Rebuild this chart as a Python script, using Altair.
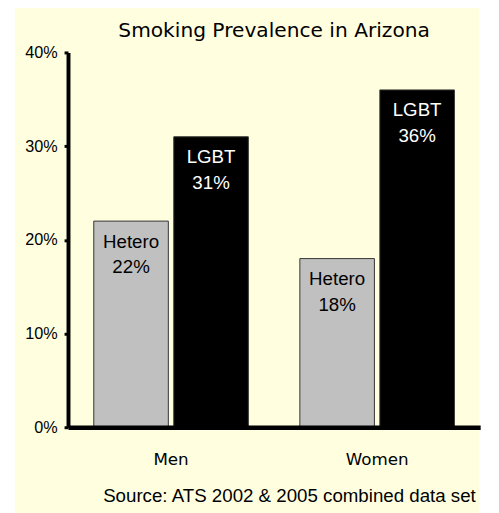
import altair as alt
import pandas as pd

genders = ["Men", "Women"]
groups = ["Hetero", "LGBT"]
hetero = [0.22, 0.18]
lgbt = [0.31, 0.36]
y_ticks = [0, 0.1, 0.2, 0.3, 0.4]
title_text = "Smoking Prevalence in Arizona"
source_text = "Source: ATS 2002 & 2005 combined data set"

rows = []
for i, g in enumerate(genders):
    for grp, vals in (("Hetero", hetero), ("LGBT", lgbt)):
        v = vals[i]
        rows.append({"gender": g, "group": grp, "value": v,
                     "label": f"{grp}\n{round(v * 100)}%"})
df = pd.DataFrame(rows)

cream = "#FFFFE0"

x_enc = alt.X(
    "gender:N", sort=genders,
    scale=alt.Scale(paddingInner=0.25, paddingOuter=0.125),
    axis=alt.Axis(
        title=source_text, labelAngle=0, labelFont="DejaVu Sans", labelFontSize=17,
        labelColor="black", labelBaseline="alphabetic", labelPadding=38,
        ticks=False, tickSize=0, domainColor="black", domainWidth=4.5,
        titleX=414, titleY=75, titleAlign="right", titleBaseline="alphabetic",
        titleFont="Liberation Sans", titleFontSize=19, titleFontWeight="normal",
        titleColor="black", zindex=1,
    ),
)
xo_enc = alt.XOffset("group:N", sort=groups,
                     scale=alt.Scale(paddingInner=0.068, paddingOuter=0))
y_enc = alt.Y(
    "value:Q", scale=alt.Scale(domain=[0, 0.4], nice=False),
    axis=alt.Axis(
        values=y_ticks, format=".0%", title=None, grid=False,
        labelFont="Liberation Sans", labelFontSize=16.5, labelColor="black",
        labelPadding=7, tickSize=4, tickWidth=3, tickColor="black",
        domainColor="black", domainWidth=4, zindex=1,
    ),
)

bg = alt.Chart(pd.DataFrame({"a": [0]})).mark_rect(color=cream).encode(
    x=alt.value(-54), x2=alt.value(418), y=alt.value(-49), y2=alt.value(470)
)

bars = alt.Chart(df).mark_bar(stroke="#333333", strokeWidth=1).encode(
    x=x_enc, xOffset=xo_enc, y=y_enc,
    color=alt.Color("group:N", scale=alt.Scale(domain=groups, range=["#C0C0C0", "#000000"]),
                    legend=None),
)

labels = alt.Chart(df).mark_text(
    baseline="alphabetic", dy=27, lineHeight=26, lineBreak="\n",
    font="Liberation Sans", fontSize=19,
).encode(
    x=x_enc, xOffset=xo_enc, y=y_enc, text="label:N",
    color=alt.condition(alt.datum.group == "LGBT", alt.value("white"), alt.value("black")),
)

chart = alt.layer(bg, bars, labels).properties(
    width=419, height=381,
    padding={"left": 61, "top": 41, "right": 11, "bottom": 83},
    autosize="none",
    background="white",
    title=alt.TitleParams(
        title_text, font="DejaVu Sans", fontSize=20.5, fontWeight="normal", color="black",
        anchor="middle", frame="group", baseline="alphabetic", offset=-54,
    ),
).configure_view(stroke=None)

chart.save("out.html", embed_options={"renderer": "svg", "actions": False})
